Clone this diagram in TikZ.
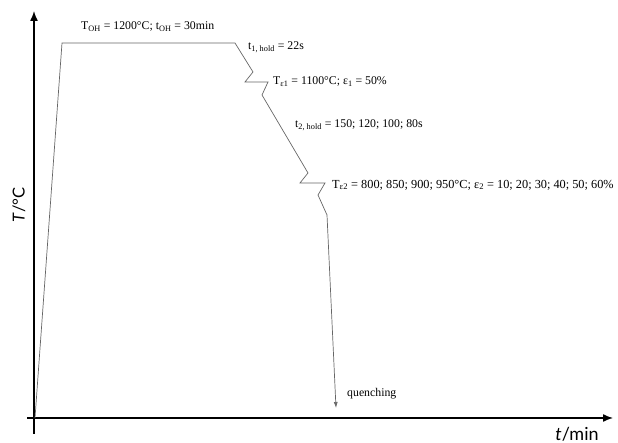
\documentclass[tikz,border=0pt]{standalone}
\usepackage{fontspec}
\setmainfont{Liberation Serif}
\newfontfamily\axisfont{Lato}
\usepackage{tikz}
\usetikzlibrary{arrows.meta}

\begin{document}
\begin{tikzpicture}[x=1pt,y=1pt]
		\tikzset{axis/.style={line width=1.4pt,-{Latex[length=10pt,width=8pt]}},
		curve/.style={draw=black!60,line width=0.7pt,line join=miter},
		lab/.style={anchor=west,inner sep=0pt,font=\fontsize{11.8}{13}\selectfont}
	}
    \useasboundingbox (0,0) rectangle (618,443);
    \coordinate (xs) at (27,25);
    \coordinate (xe) at (613,25);
    \coordinate (ys) at (34,9);
    \coordinate (ye) at (34,432);
    \coordinate (o) at (35,25);
    \coordinate (heat) at (62,400);
    \coordinate (soak) at (235,400);
    \coordinate (p1) at (253,371);
    \coordinate (p2) at (245,361);
    \coordinate (p3) at (268,361);
    \coordinate (p4) at (262,348);
    \coordinate (q1) at (308,270);
    \coordinate (q2) at (300,260);
    \coordinate (q3) at (325,260);
    \coordinate (q4) at (318,248);
    \coordinate (q5) at (327,228);
    \coordinate (quench) at (336,35);

    \node [lab] (toh) at (81,416) {T\textsubscript{OH} = 1200°C; t\textsubscript{OH} = 30min};
    \node [lab] (hold1) at (248,396) {t\textsubscript{1, hold} = 22s};
    \node [lab] (def1) at (273,361) {T\textsubscript{ε1} = 1100°C; ε\textsubscript{1} = 50\%};
    \node [lab] (hold2) at (295,318) {t\textsubscript{2, hold} = 150; 120; 100; 80s};
    \node [lab,font=\fontsize{12.3}{13}\selectfont] (def2) at (332,258) {T\textsubscript{ε2} = 800; 850; 900; 950°C; ε\textsubscript{2} = 10; 20; 30; 40; 50; 60\%};
    \node [lab] (qu) at (347,49) {quenching};
    \node [rotate=90,font=\axisfont\fontsize{16.5}{18}\selectfont] (ylab) at (19,238) {\textit{T}/°C};
    \node [font=\axisfont\fontsize{18}{20}\selectfont] (xlab) at (577,9) {\textit{t}/min};

    \draw [axis] (xs) -- (xe);
    \draw [axis] (ys) -- (ye);
    \draw [curve] (o) -- (heat)
    	  -- (soak)
    	  -- (p1)
    	  -- (p2)
    	  -- (p3)
    	  -- (p4)
    	  -- (q1)
    	  -- (q2)
    	  -- (q3)
    	  -- (q4)
    	  -- (q5);
    \draw [curve,-{Latex[length=6pt,width=4pt]}] (q5) -- (quench);

	\end{tikzpicture}
\end{document}
